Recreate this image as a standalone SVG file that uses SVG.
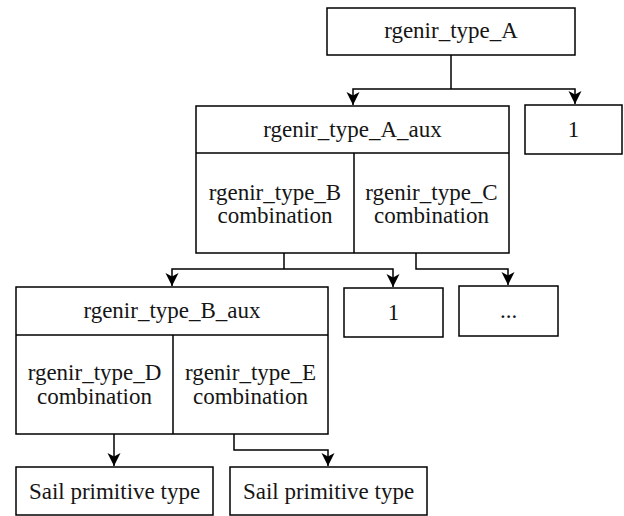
<svg xmlns="http://www.w3.org/2000/svg" width="624" height="516" viewBox="0 0 624 516">
  <style>
    .box { fill: #ffffff; stroke: #000000; stroke-width: 1.5; }
    .div { fill: none; stroke: #000000; stroke-width: 1.5; }
    .edge { fill: none; stroke: #000000; stroke-width: 1.5; marker-end: url(#arrow); }
    .line { fill: none; stroke: #000000; stroke-width: 1.5; }
    .lbl { font-family: 'Liberation Serif', 'DejaVu Serif', serif; font-size: 23px; fill: #151515; text-anchor: middle; }
  </style>
  <defs>
    <!-- filled arrowhead pointing along the path direction -->
    <marker id="arrow" markerUnits="userSpaceOnUse" markerWidth="15" markerHeight="14" viewBox="0 0 15 14" refX="14" refY="7" orient="auto">
      <path d="M1,0.5 L14,7 L1,13.5 L4.5,7 Z" fill="#000000"/>
    </marker>
  </defs>
  <rect width="624" height="516" fill="#ffffff"/>

  <!-- connectors -->
  <g id="connectors">
    <path class="line" d="M451,55 V89"/>
    <path class="edge" d="M451,89 H353 V105"/>
    <path class="edge" d="M451,89 H575 V104"/>
    <path class="line" d="M284,253 V269"/>
    <path class="edge" d="M284,269 H172 V286"/>
    <path class="edge" d="M284,269 H393 V287"/>
    <path class="edge" d="M416,253 V269 H508 V285"/>
    <path class="edge" d="M114,434 V466"/>
    <path class="edge" d="M234,434 V450 H328 V466"/>
  </g>

  <!-- rgenir_type_A -->
  <g id="type_A">
    <rect class="box" x="327" y="8" width="248" height="47"/>
    <text class="lbl" x="451" y="38">rgenir_type_A</text>
  </g>

  <!-- rgenir_type_A_aux with its two combination cells -->
  <g id="type_A_aux">
    <rect class="box" x="196" y="106" width="313" height="147"/>
    <path class="div" d="M196,153 H509 M354,153 V253"/>
    <text class="lbl" x="352.5" y="137">rgenir_type_A_aux</text>
    <text class="lbl" x="275" y="200">rgenir_type_B</text>
    <text class="lbl" x="275" y="223">combination</text>
    <text class="lbl" x="431.5" y="200">rgenir_type_C</text>
    <text class="lbl" x="431.5" y="223">combination</text>
  </g>

  <g id="one_top">
    <rect class="box" x="525" y="105" width="97" height="49"/>
    <text class="lbl" x="573.5" y="137">1</text>
  </g>

  <!-- rgenir_type_B_aux with its two combination cells -->
  <g id="type_B_aux">
    <rect class="box" x="16" y="287" width="312" height="147"/>
    <path class="div" d="M16,335 H328 M173,335 V434"/>
    <text class="lbl" x="172" y="318">rgenir_type_B_aux</text>
    <text class="lbl" x="94.5" y="380">rgenir_type_D</text>
    <text class="lbl" x="94.5" y="404">combination</text>
    <text class="lbl" x="250.5" y="380">rgenir_type_E</text>
    <text class="lbl" x="250.5" y="404">combination</text>
  </g>

  <g id="one_mid">
    <rect class="box" x="344" y="288" width="99" height="49"/>
    <text class="lbl" x="393.5" y="320">1</text>
  </g>

  <g id="ellipsis">
    <rect class="box" x="459" y="286" width="99" height="50"/>
    <text class="lbl" x="508.5" y="318">...</text>
  </g>

  <g id="sail_D">
    <rect class="box" x="16" y="467" width="197" height="48"/>
    <text class="lbl" x="114.5" y="499">Sail primitive type</text>
  </g>

  <g id="sail_E">
    <rect class="box" x="230" y="467" width="197" height="48"/>
    <text class="lbl" x="328.5" y="499">Sail primitive type</text>
  </g>
</svg>
